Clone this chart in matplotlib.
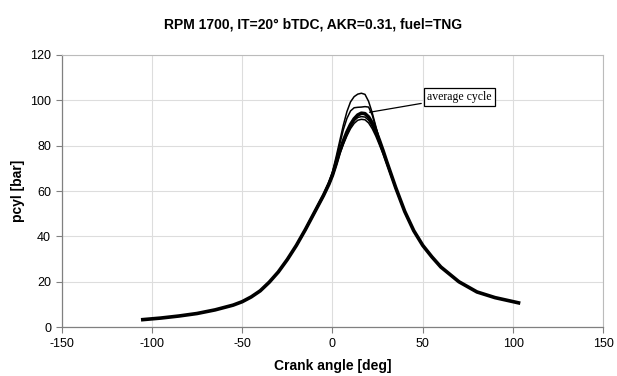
import matplotlib
matplotlib.use("Agg")
import matplotlib.pyplot as plt

plt.rcParams["axes.unicode_minus"] = False

# crank angle points [deg]
angle = [-105, -95, -85, -75, -65, -55, -50, -45, -40, -35, -30, -25, -20, -15,
         -10, -5, -2, 0, 2, 4, 6, 8, 10, 12, 14, 16, 18, 20, 22, 24, 26, 28,
         30, 35, 40, 45, 50, 55, 60, 70, 80, 90, 103]

# cylinder pressure [bar]
p_avg = [3.3, 4.0, 4.9, 6.0, 7.6, 9.7, 11.2, 13.3, 16.0, 19.8, 24.3, 29.8,
         36.0, 43.0, 50.5, 58.0, 63.0, 67.0, 72.0, 77.5, 82.0, 86.0, 89.3,
         91.8, 93.5, 94.3, 94.1, 92.6, 90.0, 86.5, 82.3, 77.8, 73.0, 61.5,
         51.0, 42.5, 36.0, 31.0, 26.5, 20.0, 15.5, 13.0, 10.7]
p_cyc1 = [3.3, 4.0, 4.9, 6.0, 7.6, 9.7, 11.2, 13.3, 16.0, 19.8, 24.3, 29.9,
          36.2, 43.3, 51.0, 58.6, 64.0, 68.5, 75.0, 82.0, 89.0, 95.0, 99.3,
          101.6, 102.7, 103.1, 102.6, 99.5, 94.5, 88.5, 82.5, 78.0, 73.3,
          61.7, 51.1, 42.6, 36.0, 31.0, 26.5, 20.0, 15.5, 13.0, 10.7]
p_cyc2 = [3.3, 4.0, 4.9, 6.0, 7.6, 9.7, 11.2, 13.3, 16.0, 19.8, 24.3, 29.9,
          36.1, 43.2, 50.8, 58.4, 63.7, 68.0, 74.0, 80.5, 87.0, 92.0, 95.3,
          96.7, 96.9, 97.0, 97.2, 97.0, 93.5, 88.0, 82.8, 78.0, 73.2, 61.6,
          51.0, 42.5, 36.0, 31.0, 26.5, 20.0, 15.5, 13.0, 10.7]
p_cyc3 = [3.3, 4.0, 4.9, 6.0, 7.6, 9.7, 11.2, 13.3, 16.0, 19.8, 24.2, 29.7,
          35.8, 42.7, 50.1, 57.6, 62.7, 66.3, 71.0, 76.2, 80.5, 84.3, 87.5,
          89.8, 91.2, 91.6, 91.4, 90.0, 87.5, 84.2, 80.3, 76.3, 72.0, 61.0,
          50.7, 42.3, 35.9, 30.9, 26.4, 20.0, 15.5, 13.0, 10.7]
p_cyc4 = [3.3, 4.0, 4.9, 6.0, 7.6, 9.7, 11.2, 13.3, 16.0, 19.8, 24.2, 29.7,
          35.9, 42.8, 50.3, 57.8, 62.9, 66.6, 71.5, 76.8, 81.2, 85.2, 88.5,
          91.0, 92.4, 92.8, 92.6, 91.2, 88.6, 85.2, 81.2, 77.0, 72.5, 61.2,
          50.8, 42.4, 36.0, 31.0, 26.5, 20.0, 15.5, 13.0, 10.7]

fig = plt.figure(figsize=(6.17, 3.76), dpi=100)
ax = fig.add_axes([0.0997, 0.130, 0.8783, 0.724])

for p in (p_cyc1, p_cyc2, p_cyc3, p_cyc4):
    ax.plot(angle, p, color="black", linewidth=1.1)
ax.plot(angle, p_avg, color="black", linewidth=2.6)

ax.annotate("average cycle", xy=(19, 94.5), xytext=(70.4, 101.5),
            ha="center", va="center", fontsize=8.5, family="Liberation Serif",
            bbox=dict(boxstyle="square,pad=0.25", fc="white", ec="black", lw=0.9),
            arrowprops=dict(arrowstyle="-", color="black", lw=0.9))

ax.set_xlim(-150, 150)
ax.set_ylim(0, 120)
ax.set_xticks(range(-150, 151, 50))
ax.set_yticks(range(0, 121, 20))
ax.grid(True, color="#dddddd", linewidth=0.8)
ax.set_axisbelow(True)
for side in ("top", "right"):
    ax.spines[side].set_color("#bbbbbb")
    ax.spines[side].set_linewidth(0.8)
for side in ("left", "bottom"):
    ax.spines[side].set_color("#808080")
    ax.spines[side].set_linewidth(0.9)
ax.tick_params(direction="out", length=4, width=0.8, color="#808080",
               labelsize=9)
for lab in ax.get_xticklabels() + ax.get_yticklabels():
    lab.set_family("Liberation Sans")

ax.set_xlabel("Crank angle [deg]", fontsize=10, fontweight="bold",
              family="Liberation Sans", labelpad=7)
ax.set_ylabel("pcyl [bar]", fontsize=10, fontweight="bold",
              family="Liberation Sans", labelpad=4)
fig.text(0.507, 0.935, "RPM 1700, IT=20° bTDC, AKR=0.31, fuel=TNG",
         ha="center", va="center", fontsize=10, fontweight="bold",
         family="Liberation Sans")

fig.savefig("out.png", dpi=100)
